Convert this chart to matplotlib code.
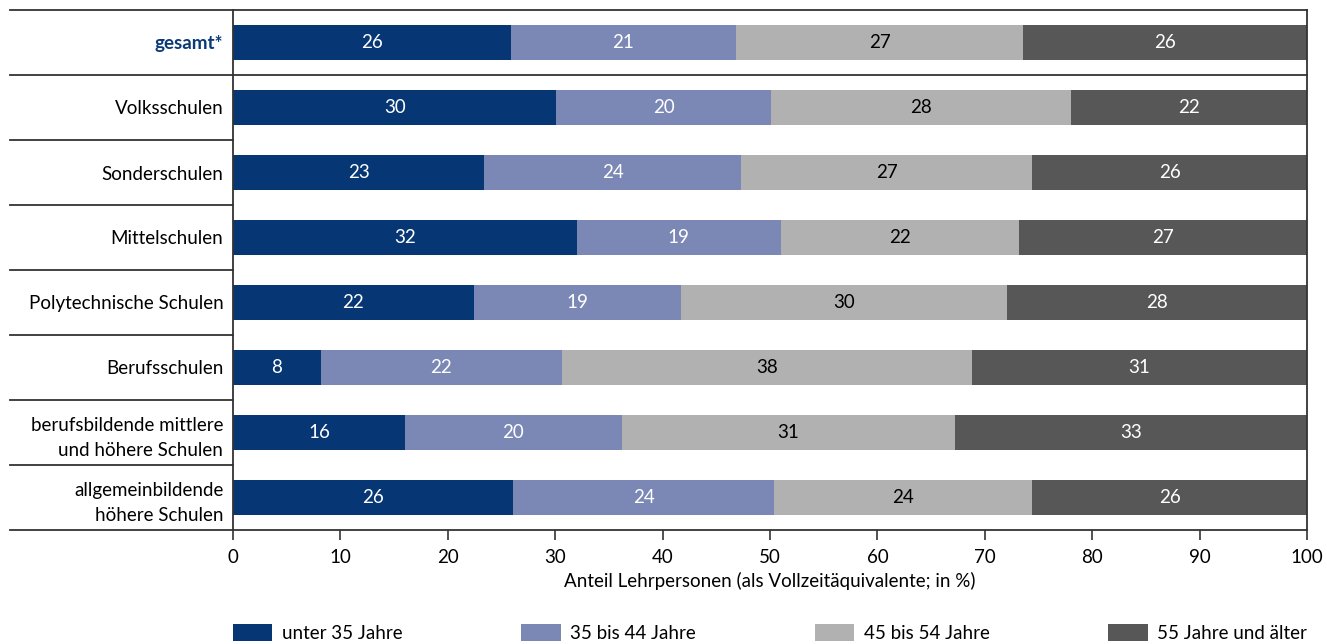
import matplotlib.pyplot as plt
import numpy as np

plt.rcParams['font.family'] = ['Lato', 'DejaVu Sans']

# data (percent)
categories = ["gesamt*", "Volksschulen", "Sonderschulen", "Mittelschulen",
              "Polytechnische Schulen", "Berufsschulen",
              "berufsbildende mittlere\nund höhere Schulen",
              "allgemeinbildende\nhöhere Schulen"]
age_groups = ["unter 35 Jahre", "35 bis 44 Jahre", "45 bis 54 Jahre", "55 Jahre und älter"]
under35 = [25.9, 30.1, 23.4, 32.0, 22.4, 8.2, 16.0, 26.1]
age35_44 = [20.9, 20.0, 23.9, 19.0, 19.3, 22.4, 20.2, 24.3]
age45_54 = [26.8, 27.9, 27.1, 22.2, 30.4, 38.2, 31.0, 24.0]
age55plus = [26.4, 22.0, 25.6, 26.8, 27.9, 31.2, 32.8, 25.6]

colors = ["#063673", "#7b87b5", "#b1b1b1", "#575757"]
text_colors = ["white", "white", "black", "white"]
line_col = "#333333"
fs = 13.5

fig = plt.figure(figsize=(13.27, 6.44), dpi=100)
ax = fig.add_axes([233 / 1327, 1 - 530 / 644, 1074 / 1327, 520 / 644])

y = np.arange(len(categories))
left = np.zeros(len(categories))
for vals, col, tcol, lab in zip([under35, age35_44, age45_54, age55plus], colors, text_colors, age_groups):
    vals = np.array(vals)
    ax.barh(y, vals, left=left, height=0.54, color=col, label=lab)
    for yi, l, v in zip(y, left, vals):
        ax.text(l + v / 2, yi, f"{v:.0f}", ha="center", va="center", color=tcol, fontsize=fs)
    left += vals

ax.set_xlim(0, 100)
ax.set_ylim(len(categories) - 0.5, -0.5)
ax.set_xticks(range(0, 101, 10))
ax.set_yticks(y)
ax.set_yticklabels(categories, fontsize=fs, linespacing=1.55)
ax.tick_params(axis="y", length=0, pad=7)
ax.tick_params(axis="x", length=7, width=1.2, color=line_col, labelsize=fs, pad=7)
lbl = ax.get_yticklabels()[0]
lbl.set_color("#0a3a78")
lbl.set_fontweight("bold")

for s in ["top", "bottom"]:
    ax.spines[s].set_visible(False)
for s in ["left", "right"]:
    ax.spines[s].set_color(line_col)
    ax.spines[s].set_linewidth(1.3)

# separator lines
tr = ax.get_yaxis_transform()
x0 = -223 / 1074
for yy in [-0.5, 0.5, len(categories) - 0.5]:
    ax.plot([x0, 1], [yy, yy], transform=tr, color=line_col, lw=1.3, clip_on=False)
for yy in np.arange(1.5, len(categories) - 1, 1.0):
    ax.plot([x0, 0], [yy, yy], transform=tr, color=line_col, lw=1.3, clip_on=False)

ax.set_xlabel("Anteil Lehrpersonen (als Vollzeitäquivalente; in %)", fontsize=fs, labelpad=4)

fig.legend(loc="lower left", bbox_to_anchor=(233 / 1327, 0.003, 1074 / 1327, 0.04),
           mode="expand", ncol=4, frameon=False, fontsize=fs,
           handlelength=2.1, handleheight=1.0, handletextpad=0.5, borderaxespad=0,
           borderpad=0)

fig.savefig("out.png", dpi=100)
